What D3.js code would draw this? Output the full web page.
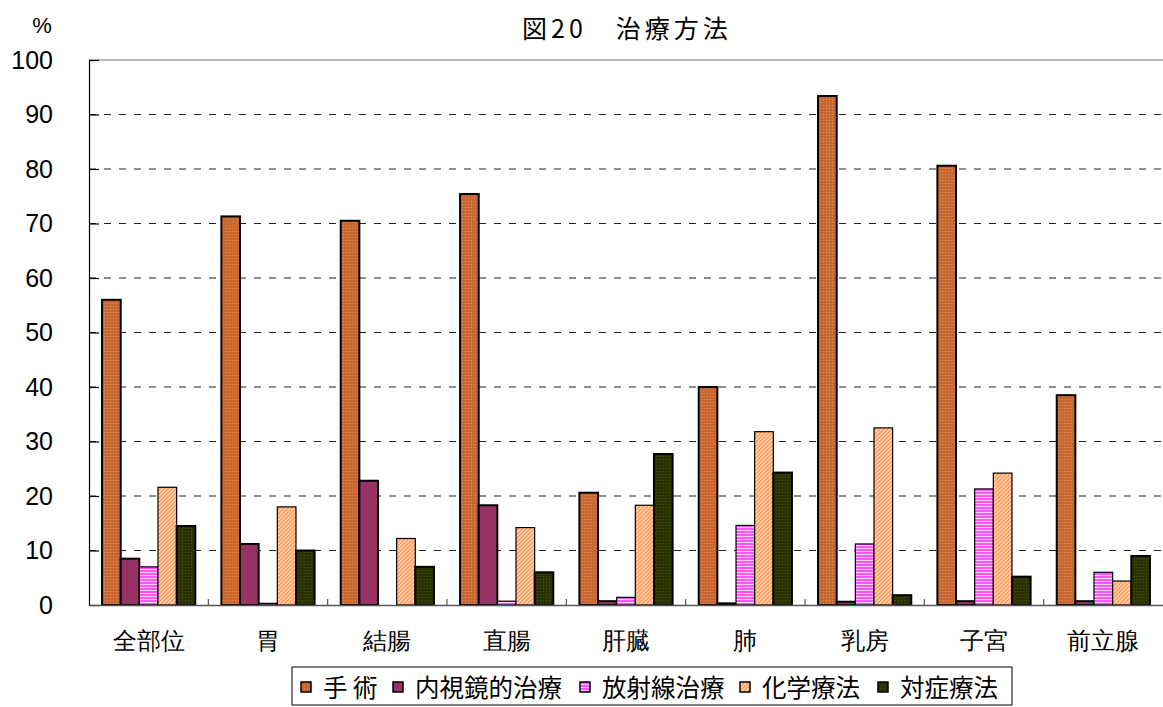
<!DOCTYPE html>
<html>
<head>
<meta charset="utf-8">
<script src="https://cdn.jsdelivr.net/npm/d3@7"></script>
<style>
  body { margin: 0; background: #fff; }
  svg { font-family: "Noto Sans CJK JP", "Noto Sans", sans-serif; }
</style>
</head>
<body>
<div id="chart"></div>
<script>
// chart data
const categories = ["全部位", "胃", "結腸", "直腸", "肝臓", "肺", "乳房", "子宮", "前立腺"];
const seriesNames = ["手 術", "内視鏡的治療", "放射線治療", "化学療法", "対症療法"];
const surgery      = [56.0, 71.3, 70.5, 75.4, 20.6, 40.0, 93.4, 80.6, 38.5];
const endoscopic   = [8.5, 11.2, 22.8, 18.3, 0.7, 0.3, 0.6, 0.7, 0.7];
const radiation    = [7.0, 0.3, 0.0, 0.7, 1.4, 14.6, 11.2, 21.3, 6.0];
const chemo        = [21.6, 18.0, 12.2, 14.2, 18.3, 31.8, 32.5, 24.2, 4.4];
const palliative   = [14.5, 10.0, 7.0, 6.0, 27.7, 24.3, 1.8, 5.2, 9.0];
const yTicks = [0, 10, 20, 30, 40, 50, 60, 70, 80, 90, 100];

const seriesValues = [surgery, endoscopic, radiation, chemo, palliative];

const W = 1163, H = 707;
const margin = { top: 60, right: 0, bottom: 102, left: 89 };
const width = W - margin.left - margin.right;
const height = H - margin.top - margin.bottom;

const svg = d3.select("#chart").append("svg")
    .attr("width", W)
    .attr("height", H);

// fill patterns
const defs = svg.append("defs");

const p1 = defs.append("pattern").attr("id", "pat0").attr("width", 3).attr("height", 3)
    .attr("patternUnits", "userSpaceOnUse");
p1.append("rect").attr("width", 3).attr("height", 3).attr("fill", "#cc6a33");
p1.append("rect").attr("width", 1).attr("height", 1).attr("fill", "#e8894a");
p1.append("rect").attr("x", 1.5).attr("y", 1.5).attr("width", 1).attr("height", 1).attr("fill", "#a95a2a");

const p2 = defs.append("pattern").attr("id", "pat1").attr("width", 4).attr("height", 4)
    .attr("patternUnits", "userSpaceOnUse");
p2.append("rect").attr("width", 4).attr("height", 4).attr("fill", "#993366");

const p3 = defs.append("pattern").attr("id", "pat2").attr("width", 4).attr("height", 3)
    .attr("patternUnits", "userSpaceOnUse");
p3.append("rect").attr("width", 4).attr("height", 3).attr("fill", "#ff55ff");
p3.append("rect").attr("y", 2).attr("width", 4).attr("height", 1).attr("fill", "#ffd0ff");

const p4 = defs.append("pattern").attr("id", "pat3").attr("width", 4).attr("height", 4)
    .attr("patternUnits", "userSpaceOnUse");
p4.append("rect").attr("width", 4).attr("height", 4).attr("fill", "#ffe2cc");
p4.append("path").attr("d", "M-1,1 L1,-1 M0,4 L4,0 M3,5 L5,3")
    .attr("stroke", "#ff9955").attr("stroke-width", 1.6);

const p5 = defs.append("pattern").attr("id", "pat4").attr("width", 3).attr("height", 3)
    .attr("patternUnits", "userSpaceOnUse");
p5.append("rect").attr("width", 3).attr("height", 3).attr("fill", "#2a3300");
p5.append("rect").attr("width", 1).attr("height", 1).attr("fill", "#4a5510");

const g = svg.append("g").attr("transform", `translate(${margin.left},${margin.top})`);

const x = d3.scaleBand().domain(categories).range([0, width]).paddingInner(0).paddingOuter(0);
const x1 = d3.scaleBand().domain(d3.range(seriesNames.length))
    .range([0, x.bandwidth()]).paddingOuter(0.7).paddingInner(0);
const y = d3.scaleLinear().domain([0, 100]).range([height, 0]);

// gridlines
g.append("g").selectAll("line")
    .data(yTicks.filter(d => d > 0 && d < 100))
    .enter().append("line")
    .attr("x1", 0).attr("x2", width)
    .attr("y1", d => y(d)).attr("y2", d => y(d))
    .attr("stroke", "#222").attr("stroke-width", 1)
    .attr("stroke-dasharray", "7,8");

// top border
g.append("line").attr("x1", 0).attr("x2", width).attr("y1", y(100)).attr("y2", y(100))
    .attr("stroke", "#777").attr("stroke-width", 1.2);

// bars
const groups = g.selectAll(".cat")
    .data(categories)
    .enter().append("g")
    .attr("transform", d => `translate(${x(d)},0)`);

groups.selectAll("rect")
    .data((c, ci) => seriesValues.map((vals, si) => ({ si, v: vals[ci] })))
    .enter().append("rect")
    .attr("x", d => x1(d.si))
    .attr("y", d => y(d.v))
    .attr("width", x1.bandwidth())
    .attr("height", d => height - y(d.v))
    .attr("fill", d => `url(#pat${d.si})`)
    .attr("stroke", "#000")
    .attr("stroke-width", d => d.si === 2 || d.si === 3 ? 1.2 : 2);

// y axis
const yAxis = g.append("g").call(d3.axisLeft(y).tickValues(yTicks).tickSize(0).tickPadding(36));
yAxis.select(".domain").attr("stroke", "#000").attr("stroke-width", 1.2);
yAxis.selectAll(".tick line").attr("stroke", "#000").attr("x1", 0).attr("x2", 10).attr("stroke-width", 1.2);
yAxis.selectAll("text").attr("font-size", 25).attr("fill", "#000")
    .attr("font-family", "'Liberation Sans', Arial, sans-serif");

// x axis
const xAxis = g.append("g").attr("transform", `translate(0,${height})`)
    .call(d3.axisBottom(x).tickSize(0).tickPadding(27));
xAxis.select(".domain").attr("stroke", "#555").attr("stroke-width", 1.5);
xAxis.selectAll("text").attr("font-size", 24).attr("fill", "#000");

// tick marks between categories
g.append("g").selectAll("line")
    .data(categories.slice(1))
    .enter().append("line")
    .attr("x1", d => x(d)).attr("x2", d => x(d))
    .attr("y1", height).attr("y2", height - 6)
    .attr("stroke", "#555").attr("stroke-width", 1.2);

// title and unit
svg.append("text").attr("x", 627).attr("y", 38).attr("text-anchor", "middle")
    .attr("font-size", 25).attr("letter-spacing", 4).text("図20　治療方法");
svg.append("text").attr("x", 42).attr("y", 33).attr("text-anchor", "middle")
    .attr("font-size", 22).attr("font-family", "'Liberation Sans', Arial, sans-serif")
    .text("%");

// legend
const legend = svg.append("g").attr("transform", "translate(292,667)");
legend.append("rect").attr("width", 720).attr("height", 38)
    .attr("fill", "#fff").attr("stroke", "#000").attr("stroke-width", 1);
const legendX = [9, 101, 288, 448, 586];
const items = legend.selectAll(".item")
    .data(seriesNames)
    .enter().append("g")
    .attr("transform", (d, i) => `translate(${legendX[i]},0)`);
items.append("rect").attr("x", 0).attr("y", 15).attr("width", 10).attr("height", 10)
    .attr("fill", (d, i) => `url(#pat${i})`).attr("stroke", "#000").attr("stroke-width", 1.5);
items.append("text").attr("x", 22).attr("y", 30).attr("font-size", 24.5).text(d => d);
</script>
</body>
</html>
